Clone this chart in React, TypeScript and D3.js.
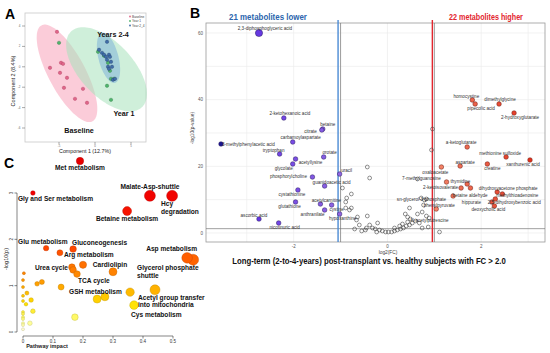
import React, { useLayoutEffect, useRef, useState } from 'react';
import * as d3 from 'd3';

// ---------- Panel A: score plot (component 1 vs component 2)
const groupNames = ['Baseline', 'Year 1', 'Year 2_4'];
const baselineX = [-5.28, -6.25, -4.72, -4.44, -4.86, -3.89, -4.31, -1.67, -2.78, -1.11];
const baselineY = [3.43, -0.1, 0.39, 0.29, -0.59, -1.08, -2.06, -2.16, -3.14, -3.53];
const year1X = [-5.0, 0.42, 1.25, 1.81, 2.08, 2.22, 2.64, 1.67, 2.22];
const year1Y = [2.35, 1.47, 1.08, 0.39, -0.39, -1.18, -1.18, -1.86, -3.24];
const year24X = [1.67, 0.56, 0.97, 1.25, 1.94, 2.08, 1.53, 1.67, 2.22, 1.81, 2.36, 1.94, 2.5, 2.78];
const year24Y = [2.45, 1.67, 1.37, 1.18, 1.18, 0.98, 0.98, 0.69, 0.49, 0, 0, -0.2, -1.27, -1.18];
// confidence ellipses: centre, major and minor half-axis vectors (data units)
const ellipseCx = [-3.89, 1.6, 1.875];
const ellipseCy = [-0.64, -0.25, 0.88];
const ellipseMajor = [[3.55, -4.7], [4.86, -3.75], [0.9, -2.45]];
const ellipseMinor = [[2.26, 0.86], [2.8, 1.72], [1.34, 0.25]];
const groupLabels = ['Baseline', 'Year 1', 'Years 2-4'];
const xTicksA = [-5, 0, 5];
const yTicksA = [4, 2, 0, -2, -4, -6];

// ---------- Panel B: volcano plot
const lowerNames = ['2,3-diphosphoglyceric acid', '2-ketohexanoic acid', 'betaine', 'citrate', 'carbamoylaspartate',
  '3-methylphenylacetic acid', 'tryptophan', 'orotate', 'acetyllysine', 'glycolate', 'uracil', 'phosphorylcholine',
  'guanidoacetic acid', 'cystathionine', 'glutathione', 'acetylcarnitine', 'cystine', 'anthranilate', 'hypoxanthine',
  'ascorbic acid', 'nicotinuric acid'];
const lowerFC = [-2.74, -2.21, -1.38, -1.4, -2.02, -3.55, -2.3, -1.36, -1.96, -2.02, -1.02, -1.6, -1.34, -1.91, -1.96,
  -1.43, -1.19, -1.34, -1.02, -2.74, -2.32];
const lowerP = [60.0, 34.5, 31.2, 30.9, 27.3, 26.7, 23.7, 22.8, 22.2, 20.7, 17.7, 16.8, 14.1, 12.9, 9.3, 8.7, 8.4, 6.9,
  5.7, 4.2, 3.0];
const higherNames = ['homocystine', 'pipecolic acid', 'dimethylglycine', '2-hydroxyglutarate', 'a-ketoglutarate',
  'methionine sulfoxide', 'xanthurenic acid', 'aspartate', 'creatine', 'oxaloacetate', 'thymidine', '', '',
  '2-ketoisovalerate', 'dihydroxyacetone phosphate', 'methylthioadenosine', 'betaine aldehyde',
  '2,5-dihydroxybenzoic acid', 'hippurate', 'deoxycholic acid', 'phenylpyruvate'];
const higherFC = [1.81, 1.87, 2.38, 2.7, 1.7, 2.53, 3.04, 1.55, 2.13, 1.15, 1.26, 1.7, 1.77, 1.57, 2.34, 2.45, 1.4,
  2.3, 2.23, 2.28, 1.04];
const higherP = [39.9, 38.7, 38.7, 36.0, 25.8, 22.8, 21.9, 20.1, 20.7, 19.8, 15.3, 14.7, 13.5, 13.5, 12.3, 11.7, 11.1,
  10.2, 9.3, 8.1, 7.2];
const nsFC = [0.96, 0.94, -0.38, -0.43, -0.96, -0.77, -0.87, -0.89, -0.89, -0.77, -0.81, -0.64, -0.66, -0.43, -0.21,
  -0.38, -0.45, -0.32, -0.47, -0.17, -0.11, -0.04, 0.02, 0.09, 0.15, 0.21, 0.28, 0.34, 0.4, 0.47, 0.53, 0.6, 0.32, 0.43,
  0.49, 0.43, 0.47, 0.64, 0.74, 0.83, 0.89, 0.74, 0.87, 1.11, 0.64, 0.79, 0.72, 0.83, 0.77, 0.68, -0.26, -0.6, -0.7,
  -0.55, -0.23, 0.38, 0.15, 0.26];
const nsP = [31.2, 24.9, 16.5, 19.8, 13.5, 11.7, 10.5, 9.3, 7.5, 7.5, 6.9, 4.8, 3.9, 5.1, 3.0, 2.4, 1.5, 1.5, 0.9, 0.9,
  0.6, 0.3, 0.3, 0.3, 0.6, 0.9, 1.2, 1.5, 2.1, 2.4, 3.0, 3.6, 2.7, 3.3, 4.2, 4.8, 7.5, 5.7, 6.3, 5.1, 4.5, 1.5, 1.8, 0.3,
  16.2, 9.9, 10.5, 10.2, 8.4, 3.0, 1.2, 2.4, 1.2, 0.6, 0.3, 5.7, 1.5, 2.1];
const nsLabelled = { 35: 'N-acetylputrescine', 44: '7-methylguanosine', 45: 'sn-glycerol-3-phosphate' } as Record<number, string>;
const xTicksB = [-2, 0, 2];
const yTicksB = [0, 20, 40, 60];
const fcCut = 1;
const pCut = 1.3;

// ---------- Panel C: pathway analysis
const pathNames = ['Met metabolism', 'Gly and Ser metabolism', 'Malate-Asp-shuttle', 'Hcy degradation',
  'Betaine metabolism', 'Glu metabolism', 'Gluconeogenesis', 'Arg metabolism', 'Urea cycle', '', 'TCA cycle1', 'TCA cycle',
  'Cardiolipin', 'Asp metabolism', 'Glycerol phosphate shuttle', '', 'GSH metabolism', '', '', 'Acetyl group transfer',
  'Cys metabolism', '', '', '', '', '', '', '', '', '', '', '', '', '', '', '', '', '', '', '', ''];
const pathImpact = [0.19, 0.033, 0.423, 0.497, 0.347, 0.077, 0.167, 0.123, 0.163, 0.2, 0.167, 0.18, 0.3, 0.547, 0.567,
  0.127, 0.247, 0.273, 0.357, 0.44, 0.37, 0.173, 0.047, 0.063, 0.003, 0, 0, 0.013, 0, 0.027, 0, 0.01, 0.033, 0, 0, 0, 0, 0,
  0.023, 0, 0];
const pathLogP = [3.69, 3.0, 2.94, 2.94, 2.61, 1.81, 1.79, 1.71, 1.4, 1.45, 1.34, 1.25, 1.3, 1.6, 1.56, 0.97, 0.71,
  0.76, 0.86, 0.91, 0.58, 0.32, 1.04, 1.08, 1.27, 1.12, 0.97, 0.84, 0.78, 0.69, 0.67, 0.6, 0.45, 0.43, 0.39, 0.32, 0.28,
  0.19, 0.19, 0.15, 0.06];
const pathSize = [3.7, 2.3, 5.5, 5.5, 4.5, 2.7, 3.3, 3.0, 3.3, 3.6, 3.3, 3.3, 4.0, 5.3, 5.5, 3.0, 4.0, 4.0, 4.2, 5.0,
  4.3, 3.3, 2.3, 2.5, 1.5, 1.5, 1.5, 2.0, 1.5, 2.3, 1.5, 1.8, 2.3, 1.5, 1.5, 1.5, 1.5, 1.5, 2.3, 1.5, 1.5];
const xTicksC = [0, 0.1, 0.2, 0.3, 0.4, 0.5];
const yTicksC = [0, 1, 2, 3];

// label placement (layout only): [dx, dy, anchor]
const labelB: Record<string, [number, number, string]> = {
  '2,3-diphosphoglyceric acid': [6, -3, 'middle'], '2-ketohexanoic acid': [6, -3, 'middle'], 'betaine': [5, -3, 'middle'],
  'citrate': [-5, 3, 'end'], 'carbamoylaspartate': [8, -3, 'middle'], '3-methylphenylacetic acid': [1, 1.5, 'start'],
  'tryptophan': [-6, -2, 'middle'], 'orotate': [6, -3, 'middle'], 'acetyllysine': [15, 4.5, 'middle'],
  'glycolate': [-9, 6, 'middle'], 'uracil': [7, -2, 'middle'], 'phosphorylcholine': [-24, 0.5, 'middle'],
  'guanidoacetic acid': [7, -2, 'middle'], 'cystathionine': [-6, 5.5, 'middle'], 'glutathione': [-6, 5.5, 'middle'],
  'acetylcarnitine': [6, -2, 'middle'], 'cystine': [5, 5.5, 'middle'], 'anthranilate': [-12, 5.5, 'middle'],
  'hypoxanthine': [3, 5.5, 'middle'], 'ascorbic acid': [-5, -2, 'middle'], 'nicotinuric acid': [6, 5.5, 'middle'],
  'homocystine': [-6, -2, 'middle'], 'pipecolic acid': [6, 5.5, 'middle'], 'dimethylglycine': [1, -3, 'middle'],
  '2-hydroxyglutarate': [6, 5.5, 'middle'], 'a-ketoglutarate': [-6, -3, 'middle'], 'methionine sulfoxide': [-6, -2, 'middle'],
  'xanthurenic acid': [-7, 5.5, 'middle'], 'aspartate': [5, -2, 'middle'], 'creatine': [5, 5.5, 'middle'],
  'oxaloacetate': [-6, 6.5, 'middle'], 'thymidine': [4, 1, 'start'], '2-ketoisovalerate': [-3, 1, 'end'],
  'dihydroxyacetone phosphate': [11, -2.5, 'middle'], 'methylthioadenosine': [15, 2.5, 'middle'],
  'betaine aldehyde': [17, 0.5, 'middle'], '2,5-dihydroxybenzoic acid': [19, 4.5, 'middle'], 'hippurate': [-11, 1.5, 'end'],
  'deoxycholic acid': [-6, 4.5, 'middle'], 'phenylpyruvate': [3, -2.5, 'middle'],
  'N-acetylputrescine': [22, 4.5, 'middle'], '7-methylguanosine': [4, 0.5, 'middle'], 'sn-glycerol-3-phosphate': [-3, 0.5, 'middle'],
};
const labelC: Record<string, [number, number[], string, string[]]> = {
  'Met metabolism': [0, [8.5], 'middle', ['Met metabolism']],
  'Gly and Ser metabolism': [-15, [7.5], 'start', ['Gly and Ser metabolism']],
  'Malate-Asp-shuttle': [0, [-6.5], 'middle', ['Malate-Asp-shuttle']],
  'Hcy degradation': [-11, [10.5, 18.5], 'start', ['Hcy', 'degradation']],
  'Betaine metabolism': [0, [9.5], 'middle', ['Betaine metabolism']],
  'Glu metabolism': [-28, [-4.5], 'start', ['Glu metabolism']],
  'Gluconeogenesis': [-1, [-4.5], 'start', ['Gluconeogenesis']],
  'Arg metabolism': [4, [4.5], 'start', ['Arg metabolism']],
  'Urea cycle': [-4, [2.5], 'end', ['Urea cycle']],
  'TCA cycle': [1, [8.5], 'start', ['TCA cycle']],
  'Cardiolipin': [-3, [-4.5], 'middle', ['Cardiolipin']],
  'Asp metabolism': [10, [-6.5], 'end', ['Asp metabolism']],
  'Glycerol phosphate shuttle': [-56, [10.5, 18.5], 'start', ['Glycerol phosphate', 'shuttle']],
  'GSH metabolism': [-28, [-5.5], 'start', ['GSH metabolism']],
  'Acetyl group transfer': [-17, [10.5, 17.5], 'start', ['Acetyl group transfer', 'into mitochondria']],
  'Cys metabolism': [-3, [11.5], 'start', ['Cys metabolism']],
};

const sans = 'Liberation Sans, Arial, sans-serif';

// text squeezed horizontally to a given width (the figure's fonts are condensed)
function FitText(props: { x: number; y: number; width: number; size: number; fill: string; children: string }) {
  const ref = useRef<SVGTextElement>(null);
  const [k, setK] = useState(1);
  useLayoutEffect(() => {
    if (ref.current) {
      const w = ref.current.getComputedTextLength();
      if (w > 0) setK(Math.min(1, props.width / w));
    }
  }, [props.width, props.children]);
  return (
    <text ref={ref} transform={`translate(${props.x},${props.y}) scale(${k},1)`} fontSize={props.size} fontWeight="bold"
      textAnchor="middle" fill={props.fill} fontFamily={sans}>{props.children}</text>
  );
}

function ellipsePath(i: number, xs: d3.ScaleLinear<number, number>, ys: d3.ScaleLinear<number, number>) {
  const ts = d3.range(0, Math.PI * 2, Math.PI / 60);
  const pts = ts.map(t => [
    ellipseCx[i] + Math.cos(t) * ellipseMajor[i][0] + Math.sin(t) * ellipseMinor[i][0],
    ellipseCy[i] + Math.cos(t) * ellipseMajor[i][1] + Math.sin(t) * ellipseMinor[i][1],
  ]);
  return d3.line<number[]>().x(d => xs(d[0])).y(d => ys(d[1])).curve(d3.curveLinearClosed)(pts) || '';
}

function PanelA() {
  const x = d3.scaleLinear().domain([-5, 5]).range([59, 131]);
  const y = d3.scaleLinear().domain([-6, 4]).range([128, 26]);
  const fills = ['#f7a3ba', '#a8e2bc', '#7fb2d8'];
  const dots = ['#e0668a', '#4fb56c', '#3f6ea8'];
  const strokes = ['#b04060', '#2d7a45', '#253f6e'];
  const sets = [[baselineX, baselineY], [year1X, year1Y], [year24X, year24Y]];
  const labelPos = [[79, 133], [124, 116], [113, 37]];
  return (
    <g>
      <rect x={25} y={13} width={121} height={129} fill="#fff" stroke="#c8c8c8" strokeWidth={0.8} />
      {yTicksA.map(v => (
        <g key={'ya' + v}>
          <line x1={22} x2={25} y1={y(v)} y2={y(v)} stroke="#555" strokeWidth={0.5} />
          <text x={20.5} y={y(v) + 1} fontSize={3} textAnchor="end" fill="#666" fontFamily={sans}>{v}</text>
        </g>
      ))}
      {xTicksA.map(v => (
        <g key={'xa' + v}>
          <line x1={x(v)} x2={x(v)} y1={142} y2={144.5} stroke="#555" strokeWidth={0.5} />
          <text x={x(v)} y={147} fontSize={2.8} textAnchor="middle" fill="#666" fontFamily={sans}>{v}</text>
        </g>
      ))}
      {[0, 1, 2].map(i => (
        <path key={'el' + i} d={ellipsePath(i, x, y)} fill={fills[i]} fillOpacity={0.55} stroke="none" />
      ))}
      {sets.map((s, i) => s[0].map((vx, j) => (
        <circle key={'p' + i + '-' + j} cx={x(vx)} cy={y(s[1][j])} r={1.7} fill={dots[i]} stroke={strokes[i]} strokeWidth={0.4} />
      )))}
      {groupLabels.map((t, i) => (
        <text key={'gl' + i} x={labelPos[i][0]} y={labelPos[i][1]} fontSize={7.2} fontWeight="bold" textAnchor="middle"
          fontFamily={sans} fill="#111">{t}</text>
      ))}
      {groupNames.map((t, i) => (
        <g key={'lg' + i}>
          <circle cx={130} cy={16.5 + i * 4.5} r={0.9} fill={dots[i]} />
          <text x={132} y={17.7 + i * 4.5} fontSize={3.2} fill="#444" fontFamily={sans}>{t}</text>
        </g>
      ))}
      <text x={85} y={152.5} fontSize={5.3} textAnchor="middle" fontFamily={sans} fill="#222">Component 1 (12.7%)</text>
      <text transform="translate(15,81) rotate(-90)" fontSize={5.5} textAnchor="middle" fontFamily={sans} fill="#222">Component 2 (8.4%)</text>
      <text x={5} y={19} fontSize={14} fontWeight="bold" fontFamily={sans}>A</text>
    </g>
  );
}

function PanelB() {
  const x = d3.scaleLinear().domain([-3.87, 3.36]).range([206, 545]);
  const y = d3.scaleLinear().domain([-2.7, 63]).range([242, 23]);
  const purple = d3.scaleLinear<string>().domain([-3.6, -2.7, -1]).range(['#14148c', '#6a3be6', '#8e66e2']);
  const red = d3.scaleLinear<string>().domain([1, 3.1]).range(['#f3866a', '#e2301c']);
  const grid = d3.range(-3, 4);
  const gridY = d3.range(0, 61, 10);
  const label = (name: string, cx: number, cy: number, k: string) => {
    const l = labelB[name];
    if (!l) return null;
    return (
      <text key={k} x={cx + l[0]} y={cy + l[1]} fontSize={4.6} textAnchor={l[2] as any} fill="#333" fontFamily={sans}>{name}</text>
    );
  };
  return (
    <g>
      <rect x={206} y={23} width={339} height={219} fill="#fff" />
      {grid.map(v => <line key={'gx' + v} x1={x(v)} x2={x(v)} y1={23} y2={242} stroke="#ececec" strokeWidth={0.7} />)}
      {gridY.map(v => <line key={'gy' + v} x1={206} x2={545} y1={y(v)} y2={y(v)} stroke="#ececec" strokeWidth={0.7} />)}
      <rect x={206} y={23} width={339} height={219} fill="none" stroke="#9a9a9a" strokeWidth={0.8} />
      <line x1={206} x2={545} y1={y(pCut)} y2={y(pCut)} stroke="#777" strokeWidth={0.7} />
      <line x1={x(-fcCut)} x2={x(-fcCut)} y1={23} y2={242} stroke="#777" strokeWidth={0.7} />
      <line x1={x(fcCut)} x2={x(fcCut)} y1={23} y2={242} stroke="#777" strokeWidth={0.7} />
      <line x1={x(-fcCut) - 2.5} x2={x(-fcCut) - 2.5} y1={20} y2={242} stroke="#4b8bd4" strokeWidth={1.4} />
      <line x1={x(fcCut) - 2} x2={x(fcCut) - 2} y1={20} y2={242} stroke="#e3262e" strokeWidth={1.4} />
      {yTicksB.map(v => (
        <text key={'yb' + v} x={203} y={y(v) + 1.5} fontSize={4.5} textAnchor="end" fill="#555" fontFamily={sans}>{v}</text>
      ))}
      {xTicksB.map(v => (
        <text key={'xb' + v} x={x(v)} y={248} fontSize={4.5} textAnchor="middle" fill="#555" fontFamily={sans}>{v}</text>
      ))}
      <text x={388} y={254} fontSize={4.8} textAnchor="middle" fill="#444" fontFamily={sans}>log2(FC)</text>
      <text transform="translate(194,128) rotate(-90)" fontSize={4.8} textAnchor="middle" fill="#444" fontFamily={sans}>-log10(p-value)</text>
      {nsFC.map((v, i) => (
        <circle key={'ns' + i} cx={x(v)} cy={y(nsP[i])} r={1.9} fill="none" stroke="#444" strokeWidth={0.6} />
      ))}
      {lowerFC.map((v, i) => (
        <circle key={'lo' + i} cx={x(v)} cy={y(lowerP[i])} r={lowerP[i] > 50 ? 3.6 : 2.3} fill={purple(v)} stroke="#2a1a60" strokeWidth={0.5} />
      ))}
      {higherFC.map((v, i) => (
        <circle key={'hi' + i} cx={x(v)} cy={y(higherP[i])} r={2.3} fill={red(v)} stroke="#6a1a10" strokeWidth={0.5} />
      ))}
      {lowerNames.map((n, i) => label(n, x(lowerFC[i]), y(lowerP[i]), 'll' + i))}
      {higherNames.map((n, i) => n ? label(n, x(higherFC[i]), y(higherP[i]), 'hl' + i) : null)}
      {Object.keys(nsLabelled).map(k => {
        const i = +k;
        return label(nsLabelled[i], x(nsFC[i]), y(nsP[i]), 'nl' + i);
      })}
      <FitText x={268} y={20} width={78} size={8.5} fill="#2a64ad">{`${lowerNames.length} metabolites lower`}</FitText>
      <FitText x={486} y={20} width={74} size={8.5} fill="#e3262e">22 metabolites higher</FitText>
      <FitText x={369} y={263.5} width={274} size={9} fill="#111">Long-term (2-to-4-years) post-transplant vs. healthy subjects with FC &gt; 2.0</FitText>
      <text x={190} y={18} fontSize={14} fontWeight="bold" fontFamily={sans}>B</text>
    </g>
  );
}

function PanelC() {
  const x = d3.scaleLinear().domain([0, 0.5]).range([23, 173]);
  const y = d3.scaleLinear().domain([0, 3]).range([332, 193]);
  const heat = d3.scaleLinear<string>().domain([0, 0.25, 0.6, 1.0, 1.5, 2.0, 3.0])
    .range(['#fffbe6', '#ffff80', '#ffe000', '#ffa500', '#ff6a00', '#ff3000', '#f00000']);
  const order = d3.range(pathImpact.length).sort((a, b) => pathSize[b] - pathSize[a]);
  return (
    <g>
      <line x1={17} x2={17} y1={y(0)} y2={y(3)} stroke="#333" strokeWidth={0.6} />
      {yTicksC.map(v => (
        <g key={'yc' + v}>
          <line x1={14.5} x2={17} y1={y(v)} y2={y(v)} stroke="#333" strokeWidth={0.6} />
          <text transform={`translate(12.5,${y(v)}) rotate(-90)`} fontSize={4.5} textAnchor="middle" fill="#333" fontFamily={sans}>{v}</text>
        </g>
      ))}
      <line x1={x(0)} x2={x(0.5)} y1={336} y2={336} stroke="#333" strokeWidth={0.6} />
      {xTicksC.map(v => (
        <g key={'xc' + v}>
          <line x1={x(v)} x2={x(v)} y1={336} y2={338.5} stroke="#333" strokeWidth={0.6} />
          <text x={x(v)} y={343} fontSize={4.5} textAnchor="middle" fill="#333" fontFamily={sans}>{v}</text>
        </g>
      ))}
      <text x={47} y={348} fontSize={5.5} fontWeight="bold" textAnchor="middle" fill="#222" fontFamily={sans}>Pathway impact</text>
      <text transform="translate(8,259) rotate(-90)" fontSize={5.5} textAnchor="middle" fill="#222" fontFamily={sans}>-log10(p)</text>
      {order.map(i => {
        const f = heat(pathLogP[i]);
        return <circle key={'c' + i} cx={x(pathImpact[i])} cy={y(pathLogP[i])} r={pathSize[i]} fill={f}
          stroke={d3.color(f)!.darker(0.8).formatHex()} strokeWidth={0.4} />;
      })}
      {pathNames.map((n, i) => {
        const l = labelC[n];
        if (!l) return null;
        return l[3].map((t, k) => (
          <text key={'cl' + i + '-' + k} x={x(pathImpact[i]) + l[0]} y={y(pathLogP[i]) + l[1][k]} fontSize={6.6}
            fontWeight="bold" textAnchor={l[2] as any} fill="#111" fontFamily={sans}>{t}</text>
        ));
      })}
      <text x={4} y={168} fontSize={14} fontWeight="bold" fontFamily={sans}>C</text>
    </g>
  );
}

export default function App() {
  return (
    <svg width={550} height={353} style={{ position: 'absolute', left: 0, top: 0, background: '#fff' }}>
      <rect width={550} height={353} fill="#fff" />
      <PanelA />
      <PanelB />
      <PanelC />
    </svg>
  );
}
